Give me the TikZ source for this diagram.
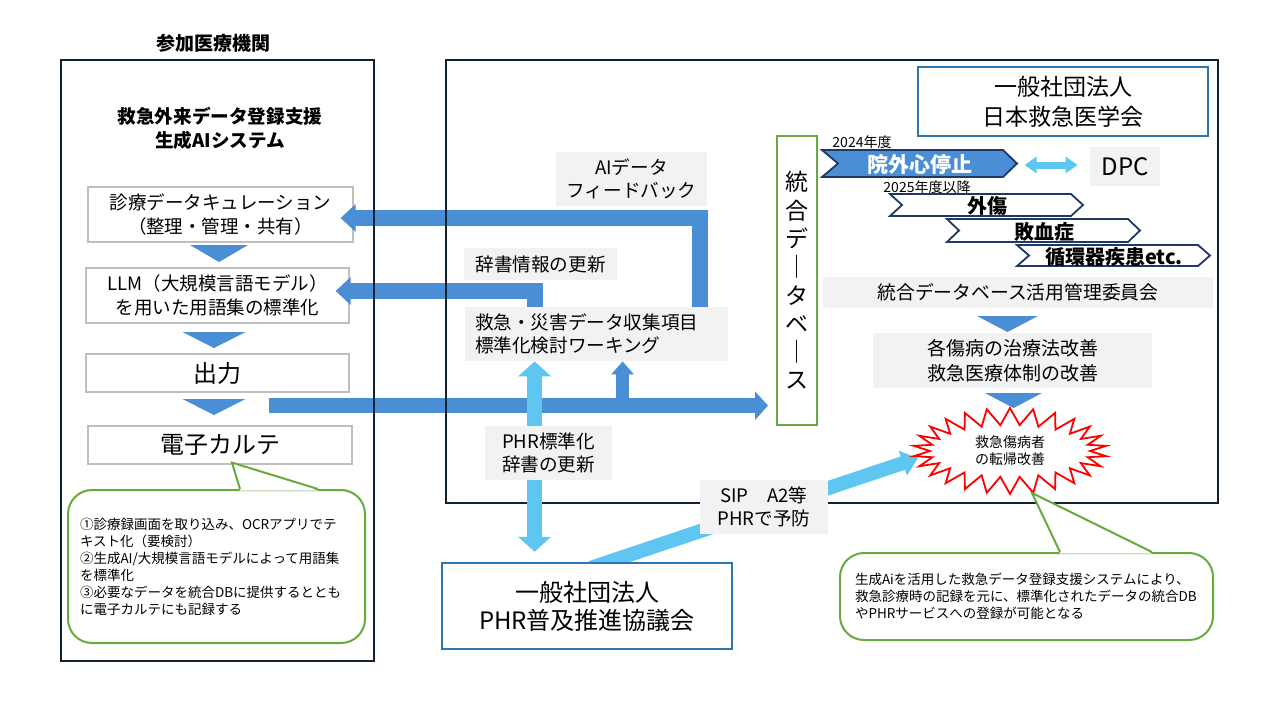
\documentclass[tikz,border=0pt]{standalone}
\usepackage{fontspec}
\setmainfont{Noto Sans CJK JP}
\usetikzlibrary{arrows.meta,positioning,calc,shapes.symbols}
\pgfdeclarelayer{back}
\pgfsetlayers{back,main}
\definecolor{frameink}{RGB}{16,34,52}
\definecolor{boxline}{RGB}{191,191,191}
\definecolor{boxgray}{RGB}{242,242,242}
\definecolor{flowblue}{RGB}{74,143,214}
\definecolor{skyblue}{RGB}{94,198,240}
\definecolor{orgblue}{RGB}{46,117,182}
\definecolor{notegreen}{RGB}{104,170,62}
\definecolor{chevink}{RGB}{31,56,100}
\newcommand\fsz[2]{\fontsize{#1}{#2}\selectfont}

\begin{document}
\begin{tikzpicture}[
  x=0.5pt, y=-0.5pt,
  sz/.style 2 args={minimum width=#1*0.5pt, minimum height=#2*0.5pt},
  wbox/.style={draw=boxline, line width=0.6pt, fill=white, inner sep=0pt, align=center, font=\fsz{9.25pt}{12pt}},
  gbox/.style={fill=boxgray, inner sep=0pt, align=center, font=\fsz{9.3pt}{11.75pt}},
  orgbox/.style={draw=orgblue, line width=1.2pt, fill=white, inner sep=0pt, align=center},
  panel/.style={draw=frameink, line width=1pt},
  note/.style={draw=notegreen, line width=1pt, fill=white, rounded corners=12pt, inner ysep=0pt, align=left, font=\fsz{6.75pt}{8.5pt}},
  flow/.style={draw=flowblue, line width=8pt, -{Triangle[width=13.5pt,length=7.5pt]}},
  feed/.style={draw=flowblue, line width=7.5pt, -{Triangle[width=14pt,length=6.5pt]}},
  tap/.style={draw=flowblue, line width=6.5pt, -{Triangle[width=11pt,length=6.5pt]}},
  skyflow/.style={draw=skyblue, line width=7.5pt, {Triangle[width=16pt,length=7.5pt]}-{Triangle[width=16pt,length=7.5pt]}},
  skysip/.style={draw=skyblue, line width=7pt, -{Triangle[width=12.5pt,length=8pt]}},
  skyshort/.style={draw=skyblue, line width=3.5pt, {Triangle[width=8pt,length=6pt]}-{Triangle[width=8pt,length=6pt]}},
  chev/.style={draw=chevink, line width=0.9pt, line join=miter},
  chevtext/.style={font=\bfseries\fsz{10pt}{12pt}, inner sep=0pt},
]
  \useasboundingbox (0,0) rectangle (1280,720);

  % participating hospital
  \node[font=\bfseries\fsz{9.5pt}{12pt}] (hosp) at (213,43) {参加医療機関};
  \node[font=\bfseries\fsz{9.3pt}{12pt}, align=center] (sys) at (220,128) {救急外来データ登録支援\\生成AIシステム};

  \node[wbox, sz={265}{55}] (cur) at (220.5,214.5) {診療データキュレーション\\（整理・管理・共有）};
  \node[wbox, sz={263}{55}] (llm) at (217.5,295.5) {LLM（大規模言語モデル）\\を用いた用語集の標準化};
  \node[wbox, sz={263}{38}, font=\fsz{12pt}{14pt}] (out) at (217.5,373) {出力};
  \node[wbox, sz={264}{38}, font=\fsz{12pt}{14pt}] (ehr) at (220,445) {電子カルテ};

  \foreach \cx/\ty/\w/\h in {219/245/58/17, 214/332/63/16, 214/399/63/16, 1007.5/316/61/16, 1013.5/393/57/15}
    \fill[flowblue] (\cx-\w/2,\ty) -- (\cx+\w/2,\ty) -- (\cx,\ty+\h) -- cycle;

  % integrated database
  \node[draw=notegreen, line width=1pt, sz={40}{289}, inner sep=0pt, align=center, font=\fsz{11.5pt}{14.15pt}] (db) at (797,280.5) {統\\合\\デ\\｜\\タ\\ベ\\｜\\ス};

  % working group labels
  \node[gbox, sz={151}{54}] (aifb) at (631.5,179) {AIデータ\\フィードバック};
  \node[gbox, sz={153}{32}] (dict) at (540.5,264) {辞書情報の更新};
  \node[gbox, sz={263}{54}, align=left, text width=121.5pt, inner xsep=5pt] (wg) at (596.5,334) {救急・災害データ収集項目\\標準化検討ワーキング};

  \draw[flow] ($(wg.north west)+(235,0)$) |- ($(cur.east)+(-13,3.5)$);
  \draw[flow] ($(wg.north west)+(70,0)$) |- ($(llm.east)+(-14,-4.5)$);
  \coordinate (tapin) at ($(out.south east)+(-81,13)$);
  \draw[feed] (tapin) -- ($(tapin -| db.west)+(-8,0)$);
  \draw[tap] ($(tapin -| wg.south west)+(158,0)$) -- ($(wg.south west)+(158,0)$);

  \draw[panel] (61,60) rectangle (374,661);
  \draw[panel] (446,60) rectangle (1218,503);

  \node[orgbox, sz={290}{86}, font=\fsz{12pt}{14pt}] (phr) at (587,606) {一般社団法人\\PHR普及推進協議会};
  \draw[skyflow] ($(wg.south west)+(70,0)$) -- ($(wg.south west |- phr.north)+(70,-10)$);
  \node[gbox, sz={127}{54}] (phrlbl) at (548.5,453) {PHR標準化\\辞書の更新};

  % academy side
  \node[orgbox, sz={290}{69}, font=\fsz{11.5pt}{15pt}] (jaam) at (1063,101.5) {一般社団法人\\日本救急医学会};

  \node[font=\fsz{7pt}{8pt}] (y24) at (862,142) {2024年度};
  \node[font=\fsz{7pt}{8pt}] (y25) at (927,187) {2025年度以降};

  \draw[chev, fill=flowblue] (822,150) -- (1003,150) -- (1017,163.5) -- (1003,177) -- (822,177) -- (838,163.5) -- cycle;
  \node[chevtext, text=white, font=\bfseries\fsz{10.5pt}{12pt}] (ohca) at (920,164.5) {院外心停止};
  \foreach \nm/\xa/\ya/\yb/\lbl in {trauma/890/194/216/外傷, sepsis/947/219/242/敗血症, cardio/1017/245/266/循環器疾患etc.} {
    \draw[chev, fill=white] (\xa,\ya) -- (\xa+181,\ya) -- (\xa+193,{(\ya+\yb)/2}) -- (\xa+181,\yb) -- (\xa,\yb) -- (\xa+12,{(\ya+\yb)/2}) -- cycle;
    \node[chevtext] (\nm) at (\xa+97,{(\ya+\yb)/2+1}) {\lbl};
  }

  \node[gbox, sz={70}{39}, font=\fsz{12pt}{14pt}] (dpc) at (1125,166.5) {DPC};
  \draw[skyshort] ($(dpc.west)+(-65,-1.5)$) -- ($(dpc.west)+(-12,-1.5)$);

  \node[gbox, sz={390}{31}, font=\fsz{9.4pt}{12pt}] (cmte) at (1018,292.5) {統合データベース活用管理委員会};
  \node[gbox, sz={279}{55}, font=\fsz{9.5pt}{12.5pt}] (kaizen) at (1012.5,360.5) {各傷病の治療法改善\\救急医療体制の改善};

  \node[starburst, draw=red, line width=0.9pt, starburst points=26, starburst point height=8.5pt, random starburst=0,
        minimum width=97pt, minimum height=43pt, inner sep=0pt, align=center, font=\fsz{7pt}{8.5pt}] (burst) at (1010,451) {救急傷病者\\の転帰改善};

  % prevention via PHR
  \begin{pgfonlayer}{back}
    \draw[skysip] ($(phr.north west)+(150,6)$) -- ($(burst.center)+(-92,7)$);
  \end{pgfonlayer}
  \node[gbox, sz={128}{54}] (sip) at (764,507) {SIP　A2等\\PHRで予防};

  % notes
  \node[note, sz={297}{153}, text width=136.5pt, inner xsep=6pt] (memo) at (216.5,566.5)
    {①診療録画面を取り込み、OCRアプリでテ\\キスト化（要検討）\\②生成AI/大規模言語モデルによって用語集\\を標準化\\③必要なデータを統合DBに提供するととも\\に電子カルテにも記録する};
  \fill[white] ($(memo.north)+(23.5,1.5)$) -- ($(ehr.south)+(12,-2)$) -- ($(memo.north)+(101.5,1.5)$) -- cycle;
  \draw[notegreen, line width=1pt] ($(memo.north)+(23.5,0)$) -- ($(ehr.south)+(12,-2)$) -- ($(memo.north)+(101.5,0)$);

  \node[note, sz={373}{87}, text width=171.5pt, inner xsep=7.5pt] (memo2) at (1026.5,596.5)
    {生成Aiを活用した救急データ登録支援システムにより、\\救急診療時の記録を元に、標準化されたデータの統合DB\\やPHRサービスへの登録が可能となる};
  \fill[white] ($(memo2.north)+(33.5,1.5)$) -- ($(burst.center)+(22,42)$) -- ($(memo2.north)+(125.5,1.5)$) -- cycle;
  \draw[notegreen, line width=1pt] ($(memo2.north)+(33.5,0)$) -- ($(burst.center)+(22,42)$) -- ($(memo2.north)+(125.5,0)$);
\end{tikzpicture}
\end{document}
